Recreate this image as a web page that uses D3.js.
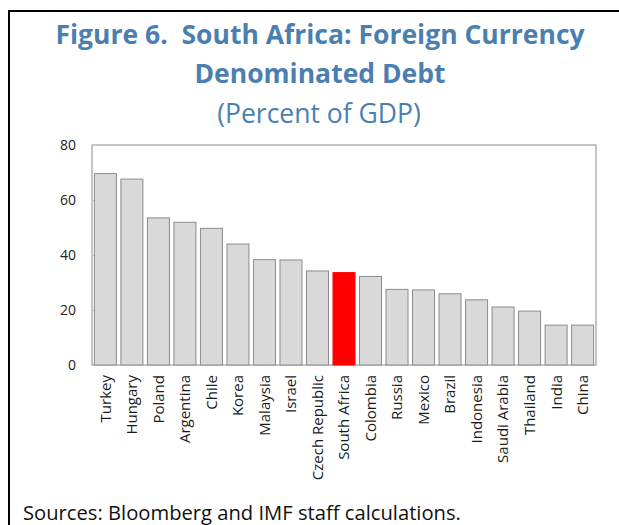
<!DOCTYPE html>
<html>
<head>
<meta charset="utf-8">
<script src="https://cdn.jsdelivr.net/npm/d3@7"></script>
<style>
  html, body { margin: 0; padding: 0; background: #ffffff; }
  svg { display: block; }
  text { font-family: "Open Sans", "Noto Sans", sans-serif; white-space: pre; }
</style>
</head>
<body>
<svg id="chart" width="619" height="525"></svg>
<script>
// Foreign currency denominated debt, percent of GDP
const countries = ["Turkey", "Hungary", "Poland", "Argentina", "Chile", "Korea", "Malaysia",
  "Israel", "Czech Republic", "South Africa", "Colombia", "Russia", "Mexico", "Brazil",
  "Indonesia", "Saudi Arabia", "Thailand", "India", "China"];
const debtPctGdp = [69.6, 67.6, 53.5, 51.9, 49.7, 44.0, 38.3, 38.2, 34.2, 33.6, 32.2,
  27.5, 27.3, 25.9, 23.7, 21.1, 19.6, 14.5, 14.5];
const highlighted = ["South Africa"];
const yTicks = [0, 20, 40, 60, 80];

const titleLines = ["Figure 6.  South Africa: Foreign Currency", "Denominated Debt"];
const subtitle = "(Percent of GDP)";
const sourceNote = "Sources: Bloomberg and IMF staff calculations.";

const svg = d3.select("#chart");
const plot = { left: 92, right: 596, top: 145, bottom: 365 };
const titleColor = "#4b7fb0";

// outer frame (top and left rules)
svg.append("line").attr("x1", 9).attr("x2", 619).attr("y1", 11).attr("y2", 11)
  .attr("stroke", "#000").attr("stroke-width", 2);
svg.append("line").attr("x1", 9).attr("x2", 9).attr("y1", 10).attr("y2", 525)
  .attr("stroke", "#000").attr("stroke-width", 2);

// titles
const cx = 320;
svg.append("text").attr("x", cx).attr("y", 44).attr("text-anchor", "middle")
  .attr("font-size", 26.5).attr("font-weight", "bold").attr("fill", titleColor)
  .text(titleLines[0]);
svg.append("text").attr("x", cx).attr("y", 83).attr("text-anchor", "middle")
  .attr("font-size", 26.5).attr("font-weight", "bold").attr("fill", titleColor)
  .text(titleLines[1]);
svg.append("text").attr("x", cx - 1).attr("y", 123).attr("text-anchor", "middle")
  .attr("font-size", 26.5).attr("fill", titleColor)
  .text(subtitle);

// scales
const x = d3.scaleBand().domain(countries)
  .range([plot.left, plot.right]).paddingInner(0.17).paddingOuter(0.09);
const y = d3.scaleLinear().domain([0, 80]).range([plot.bottom, plot.top]);

// plot frame
svg.append("rect")
  .attr("x", plot.left).attr("y", plot.top)
  .attr("width", plot.right - plot.left).attr("height", plot.bottom - plot.top)
  .attr("fill", "none").attr("stroke", "#b3b3b3").attr("stroke-width", 1.5);

// y axis
const yAxis = svg.append("g").attr("transform", `translate(${plot.left},0)`)
  .call(d3.axisLeft(y).tickValues(yTicks).tickSizeInner(-4).tickSizeOuter(0).tickPadding(16));
yAxis.select(".domain").remove();
yAxis.selectAll(".tick line").attr("stroke", "#c8c8c8");
yAxis.selectAll(".tick text").attr("font-size", 14).attr("fill", "#222")
  .attr("font-family", "'Open Sans', sans-serif");

// bars
svg.append("g").selectAll("rect")
  .data(countries.map((c, i) => ({ c, v: debtPctGdp[i] })))
  .join("rect")
  .attr("x", d => x(d.c))
  .attr("y", d => y(d.v))
  .attr("width", x.bandwidth())
  .attr("height", d => y(0) - y(d.v))
  .attr("fill", d => highlighted.includes(d.c) ? "#ff0000" : "#d9d9d9")
  .attr("stroke", d => highlighted.includes(d.c) ? "#ff0000" : "#8c8c8c")
  .attr("stroke-width", 1);

// category labels
const xAxis = svg.append("g").attr("transform", `translate(0,${plot.bottom})`)
  .call(d3.axisBottom(x).tickSize(0).tickPadding(0));
xAxis.select(".domain").remove();
xAxis.selectAll(".tick text")
  .attr("font-size", 15).attr("fill", "#1a1a1a")
  .attr("font-family", "'Open Sans', sans-serif")
  .attr("text-anchor", "end")
  .attr("transform", "rotate(-90)")
  .attr("x", -10).attr("y", 0).attr("dy", "0.36em");

// source note
svg.append("text").attr("x", 23).attr("y", 520)
  .attr("font-size", 20.2).attr("fill", "#111")
  .text(sourceNote);
</script>
</body>
</html>
